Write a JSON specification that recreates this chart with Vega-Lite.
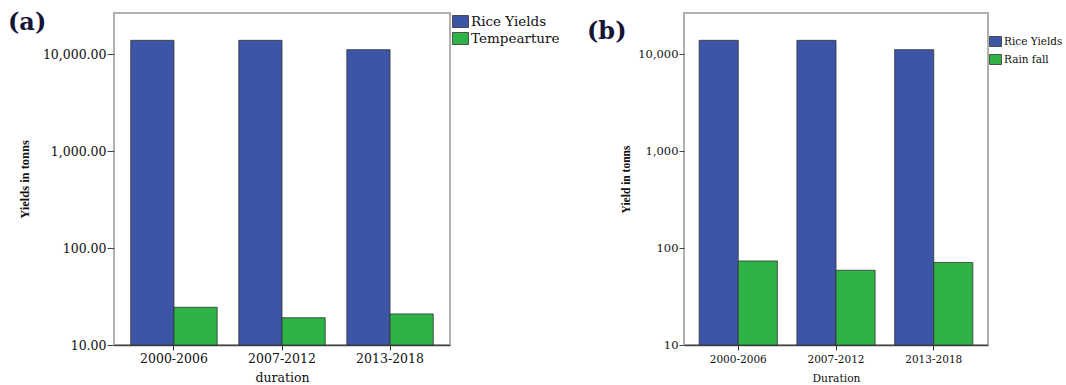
{
  "$schema": "https://vega.github.io/schema/vega-lite/v6.json",
  "background": "white",
  "padding": {"left": 7, "top": 10, "right": 0, "bottom": 0},
  "spacing": 25,
  "datasets": {
    "temperature": [
      {"duration": "2000-2006", "series": "Rice Yields", "value": 13850},
      {"duration": "2000-2006", "series": "Tempearture", "value": 24.5},
      {"duration": "2007-2012", "series": "Rice Yields", "value": 13850},
      {"duration": "2007-2012", "series": "Tempearture", "value": 19.1},
      {"duration": "2013-2018", "series": "Rice Yields", "value": 11100},
      {"duration": "2013-2018", "series": "Tempearture", "value": 20.9}
    ],
    "rainfall": [
      {"duration": "2000-2006", "series": "Rice Yields", "value": 13850},
      {"duration": "2000-2006", "series": "Rain fall", "value": 73.5},
      {"duration": "2007-2012", "series": "Rice Yields", "value": 13850},
      {"duration": "2007-2012", "series": "Rain fall", "value": 59},
      {"duration": "2013-2018", "series": "Rice Yields", "value": 11100},
      {"duration": "2013-2018", "series": "Rain fall", "value": 71}
    ]
  },
  "resolve": {
    "scale": {"color": "independent", "y": "independent", "x": "independent", "xOffset": "independent"},
    "legend": {"color": "independent"},
    "axis": {"x": "independent", "y": "independent"}
  },
  "hconcat": [
    {
      "title": {
        "text": "(a)", "anchor": "start", "frame": "group", "orient": "top",
        "offset": -22, "dx": -106,
        "font": "DejaVu Serif", "fontSize": 24, "fontWeight": "bold", "color": "#15153a"
      },
      "width": 336,
      "height": 332,
      "data": {"name": "temperature"},
      "mark": {"type": "bar", "stroke": "#333333", "strokeWidth": 0.8},
      "encoding": {
        "x": {
          "field": "duration", "type": "nominal", "sort": null,
          "scale": {"paddingInner": 0.2, "paddingOuter": 0.155},
          "title": "duration",
          "axis": {
            "labelAngle": 0, "labelFont": "DejaVu Serif", "labelFontSize": 12.5, "labelColor": "#111111",
            "labelPadding": 2, "tickSize": 5, "tickColor": "#333333", "tickWidth": 1,
            "domainColor": "#444444", "domainWidth": 1.5,
            "titleFont": "DejaVu Serif", "titleFontSize": 12.5, "titleFontWeight": "normal", "titleColor": "#111111",
            "titlePadding": 7
          }
        },
        "xOffset": {
          "field": "series", "type": "nominal", "sort": ["Rice Yields", "Tempearture"],
          "scale": {"paddingInner": 0, "paddingOuter": 0}
        },
        "y": {
          "field": "value", "type": "quantitative",
          "scale": {"type": "log", "domain": [10, 26500], "nice": false},
          "title": "Yields in tonns",
          "axis": {
            "values": [10, 100, 1000, 10000], "format": ",.2f", "grid": false, "domain": false,
            "labelFont": "DejaVu Serif", "labelFontSize": 12.5, "labelColor": "#111111",
            "labelPadding": 1, "tickSize": 7, "tickColor": "#444444",
            "titleFont": "Liberation Serif", "titleFontSize": 12.5, "titleFontWeight": "bold", "titleColor": "#111111",
            "titlePadding": 11
          }
        },
        "y2": {"datum": 10},
        "color": {
          "field": "series", "type": "nominal",
          "scale": {"domain": ["Rice Yields", "Tempearture"], "range": ["#3d55a6", "#2db346"]},
          "legend": {
            "title": null, "orient": "right", "offset": 2, "padding": 0,
            "symbolType": "M-1,-0.75H1V0.75H-1Z", "symbolSize": 256,
            "symbolStrokeColor": "#333333", "symbolStrokeWidth": 0.8, "symbolOpacity": 1,
            "labelFont": "DejaVu Serif", "labelFontSize": 13.5, "labelColor": "#111111",
            "labelOffset": 2, "rowPadding": 0
          }
        }
      }
    },
    {
      "title": {
        "text": "(b)", "anchor": "start", "frame": "group", "orient": "top",
        "offset": -31, "dx": -97,
        "font": "DejaVu Serif", "fontSize": 24, "fontWeight": "bold", "color": "#15153a"
      },
      "width": 304,
      "height": 332,
      "data": {"name": "rainfall"},
      "mark": {"type": "bar", "stroke": "#333333", "strokeWidth": 0.8},
      "encoding": {
        "x": {
          "field": "duration", "type": "nominal", "sort": null,
          "scale": {"paddingInner": 0.2, "paddingOuter": 0.155},
          "title": "Duration",
          "axis": {
            "labelAngle": 0, "labelFont": "DejaVu Serif", "labelFontSize": 10.5, "labelColor": "#111111",
            "labelPadding": 4, "tickSize": 5, "tickColor": "#333333", "tickWidth": 1,
            "domainColor": "#444444", "domainWidth": 1.5,
            "titleFont": "DejaVu Serif", "titleFontSize": 10.7, "titleFontWeight": "normal", "titleColor": "#111111",
            "titlePadding": 9
          }
        },
        "xOffset": {
          "field": "series", "type": "nominal", "sort": ["Rice Yields", "Rain fall"],
          "scale": {"paddingInner": 0, "paddingOuter": 0}
        },
        "y": {
          "field": "value", "type": "quantitative",
          "scale": {"type": "log", "domain": [10, 26500], "nice": false},
          "title": "Yield in tonns",
          "axis": {
            "values": [10, 100, 1000, 10000], "format": ",d", "grid": false, "domain": false,
            "labelFont": "DejaVu Serif", "labelFontSize": 11.5, "labelColor": "#111111",
            "labelPadding": 1, "tickSize": 5, "tickColor": "#444444",
            "titleFont": "Liberation Serif", "titleFontSize": 11.5, "titleFontWeight": "bold", "titleColor": "#111111",
            "titlePadding": 6
          }
        },
        "y2": {"datum": 10},
        "color": {
          "field": "series", "type": "nominal",
          "scale": {"domain": ["Rice Yields", "Rain fall"], "range": ["#3d55a6", "#2db346"]},
          "legend": {
            "title": null, "orient": "none", "legendX": 305, "legendY": 22, "padding": 0,
            "symbolType": "M-1,-0.833H1V0.833H-1Z", "symbolSize": 144,
            "symbolStrokeColor": "#333333", "symbolStrokeWidth": 0.8, "symbolOpacity": 1,
            "labelFont": "DejaVu Serif", "labelFontSize": 10.5, "labelColor": "#111111",
            "labelOffset": 2, "rowPadding": 3
          }
        }
      }
    }
  ],
  "config": {
    "view": {"stroke": "#b0b0b0", "strokeWidth": 2}
  }
}
